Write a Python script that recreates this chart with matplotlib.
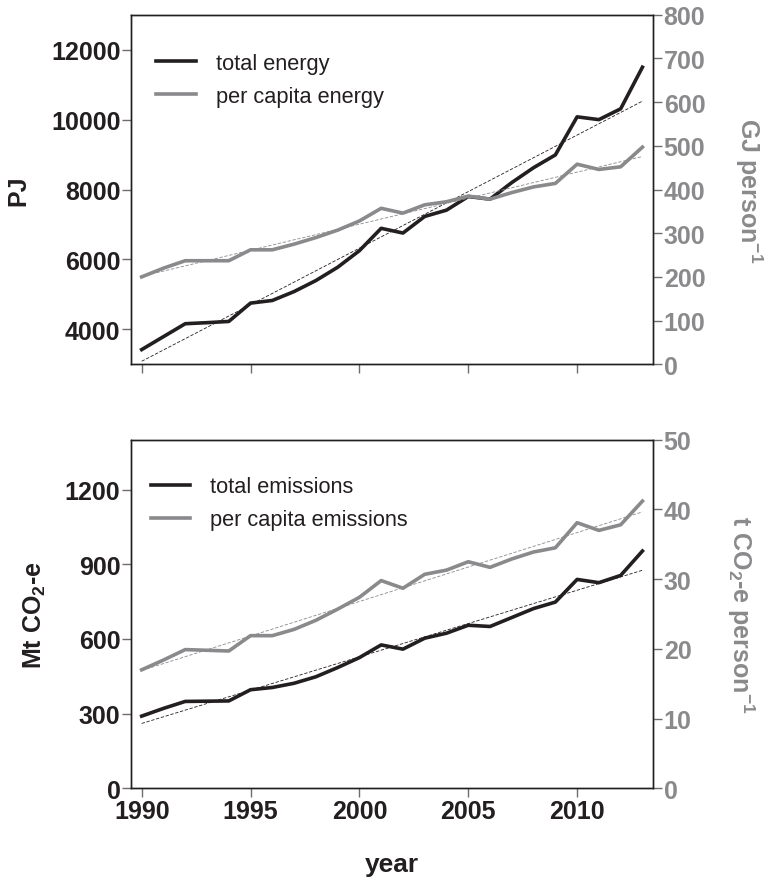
import numpy as np
import matplotlib
matplotlib.use('Agg')
import matplotlib.pyplot as plt

plt.rcParams['font.family'] = ['Liberation Sans', 'DejaVu Sans']
plt.rcParams['mathtext.fontset'] = 'custom'
plt.rcParams['mathtext.rm'] = 'Liberation Sans:bold'
plt.rcParams['mathtext.bf'] = 'Liberation Sans:bold'
plt.rcParams['mathtext.default'] = 'bf'

years = np.arange(1990, 2014)

# energy, PJ and GJ per person
total_energy = [3420, 3790, 4160, 4190, 4225, 4750, 4825, 5080, 5395, 5775,
                6250, 6890, 6755, 7230, 7410, 7800, 7725, 8200, 8625, 8990,
                10080, 10000, 10310, 11500]
percap_energy = [200, 220, 237, 237, 237, 262, 262, 275, 290, 307,
                 328, 357, 346, 365, 372, 385, 378, 393, 406, 414,
                 458, 446, 452, 497]

# emissions, Mt CO2-e and t CO2-e per person
total_emis = [290, 321, 349, 350, 351, 396, 405, 422, 448, 485,
              525, 576, 559, 603, 623, 655, 650, 686, 722, 748,
              839, 826, 855, 953]
percap_emis = [17.0, 18.4, 19.9, 19.8, 19.7, 21.9, 21.9, 22.8, 24.1, 25.7,
               27.4, 29.8, 28.7, 30.7, 31.3, 32.5, 31.7, 32.9, 33.9, 34.5,
               38.1, 37.0, 37.8, 41.2]

BLACK = '#231f20'
GREY = '#8a8a8c'
TICKC = '#6d6d6d'


def trend(x, y):
    p = np.polyfit(x, y, 1)
    return np.polyval(p, x)


def style(ax, ax2):
    for a in (ax, ax2):
        for s in a.spines.values():
            s.set_linewidth(1.0)
            s.set_color(BLACK)
    ax.tick_params(axis='both', direction='out', length=6.5, width=1,
                   color=TICKC, pad=1, labelsize=18, labelcolor=BLACK)
    ax2.tick_params(axis='y', direction='out', length=6.5, width=1,
                    color=TICKC, pad=1, labelsize=18, labelcolor=GREY)
    for lab in ax.get_xticklabels() + ax.get_yticklabels() + ax2.get_yticklabels():
        lab.set_fontweight('bold')


def panel(ax, tot, pc, lbl_tot, lbl_pc):
    ax2 = ax.twinx()
    ax.plot(years, trend(years, tot), color=BLACK, lw=0.6, ls=(0, (4, 2)), zorder=1)
    l1, = ax.plot(years, tot, color=BLACK, lw=2.6, zorder=3, label=lbl_tot)
    ax2.plot(years, trend(years, pc), color=GREY, lw=0.6, ls=(0, (4, 2)), zorder=1)
    l2, = ax2.plot(years, pc, color=GREY, lw=2.6, zorder=2, label=lbl_pc)
    ax.set_xlim(1989.5, 2013.5)
    ax.set_xticks([1990, 1995, 2000, 2005, 2010])
    return ax2, [l1, l2]


def add_legend(ax, handles, x, y):
    ax.legend(handles=handles, loc='upper left', bbox_to_anchor=(x, y), frameon=False,
              fontsize=15.7, handlelength=1.8, handletextpad=0.92, labelspacing=0.55,
              borderaxespad=0, labelcolor=BLACK)


fig = plt.figure(figsize=(7.65, 8.78), dpi=100)
ax_top = fig.add_axes([0.171, 0.584, 0.683, 0.398])
ax_bot = fig.add_axes([0.171, 0.101, 0.683, 0.397])

# top: energy
ax_top2, h = panel(ax_top, total_energy, percap_energy, 'total energy', 'per capita energy')
ax_top.set_ylim(3000, 13000)
ax_top.set_yticks([4000, 6000, 8000, 10000, 12000])
ax_top2.set_ylim(0, 800)
ax_top2.set_yticks(range(0, 801, 100))
ax_top.set_xticklabels([])
style(ax_top, ax_top2)
ax_top.set_ylabel('PJ', fontsize=18, fontweight='bold', color=BLACK, va='center')
ax_top.yaxis.set_label_coords(-0.216, 0.5)
ax_top2.set_ylabel(r'GJ person$^{-1}$', fontsize=18, fontweight='bold', color=GREY,
                   rotation=270, va='center')
ax_top2.yaxis.set_label_coords(1.182, 0.5)
add_legend(ax_top2, h, 0.032, 0.917)

# bottom: emissions
ax_bot2, h = panel(ax_bot, total_emis, percap_emis, 'total emissions', 'per capita emissions')
ax_bot.set_ylim(0, 1400)
ax_bot.set_yticks([0, 300, 600, 900, 1200])
ax_bot2.set_ylim(0, 50)
ax_bot2.set_yticks(range(0, 51, 10))
style(ax_bot, ax_bot2)
ax_bot.set_ylabel(r'Mt CO$_2$-e', fontsize=18, fontweight='bold', color=BLACK, va='center')
ax_bot.yaxis.set_label_coords(-0.184, 0.5)
ax_bot2.set_ylabel(r't CO$_2$-e person$^{-1}$', fontsize=18, fontweight='bold', color=GREY,
                   rotation=270, va='center')
ax_bot2.yaxis.set_label_coords(1.167, 0.5)
ax_bot.set_xlabel('year', fontsize=19, fontweight='bold', color=BLACK, va='center')
ax_bot.xaxis.set_label_coords(0.5, -0.218)
add_legend(ax_bot2, h, 0.022, 0.92)

fig.savefig('out.png', dpi=100)
